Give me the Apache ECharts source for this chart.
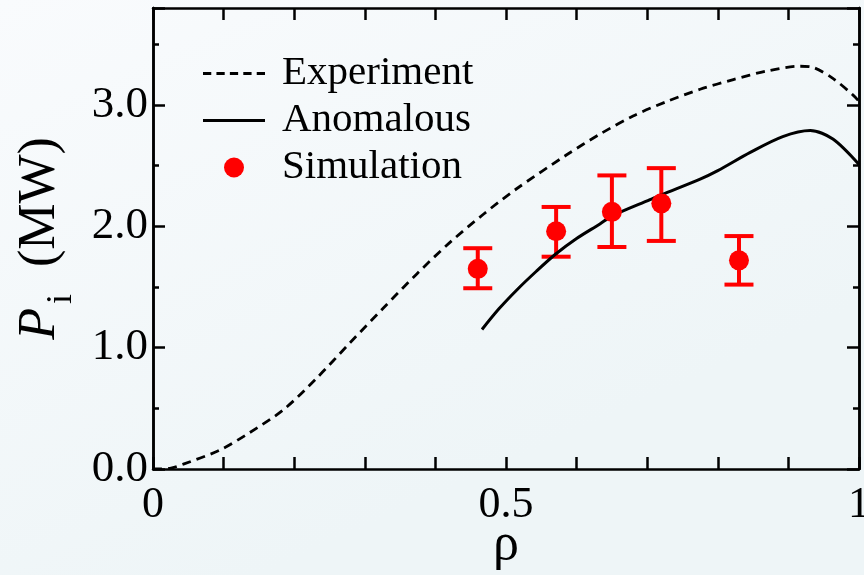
<!DOCTYPE html>
<html>
<head>
<meta charset="utf-8">
<script src="https://cdn.jsdelivr.net/npm/echarts@6/dist/echarts.min.js"></script>
<style>
html,body{margin:0;padding:0;}
#chart{width:864px;height:575px;}
</style>
</head>
<body>
<div id="chart"></div>
<script>
// Experiment (dashed)
var expX = [0, 0.024, 0.043, 0.095, 0.137, 0.185, 0.232, 0.279, 0.326, 0.374, 0.421, 0.468, 0.515, 0.586, 0.633, 0.68, 0.728, 0.775, 0.822, 0.869, 0.916, 0.935, 0.963, 0.992, 1.0];
var expY = [0, 0.006, 0.04, 0.157, 0.30, 0.49, 0.75, 1.04, 1.325, 1.61, 1.87, 2.10, 2.31, 2.59, 2.76, 2.91, 3.03, 3.13, 3.21, 3.28, 3.32, 3.31, 3.22, 3.08, 3.03];
// Anomalous (solid)
var anomX = [0.466, 0.49, 0.516, 0.543, 0.570, 0.60, 0.633, 0.65, 0.704, 0.72, 0.775, 0.80, 0.846, 0.892, 0.931, 0.963, 1.0];
var anomY = [1.15, 1.32, 1.48, 1.63, 1.77, 1.90, 2.02, 2.085, 2.22, 2.26, 2.39, 2.46, 2.61, 2.74, 2.79, 2.72, 2.51];
// Simulation points with error bars
var simX = [0.460, 0.571, 0.650, 0.720, 0.830];
var simY = [1.65, 1.96, 2.12, 2.19, 1.72];
var simLow = [1.49, 1.75, 1.83, 1.88, 1.52];
var simHigh = [1.82, 2.16, 2.42, 2.48, 1.92];
// tick labels
var xTickLabels = {"0": "0", "0.5": "0.5", "1": "1"};
var yTickLabels = {"0": "0.0", "1": "1.0", "2": "2.0", "3": "3.0"};

function zip(a, b) { return a.map(function (v, i) { return [v, b[i]]; }); }

var FONT = 'Liberation Serif';
var lineCol = '#000';

function baseAxis(extra) {
  var o = {
    type: 'value',
    axisLine: { show: true, onZero: false, lineStyle: { color: lineCol, width: 2.5 } },
    axisTick: { show: true, inside: true, length: 12, lineStyle: { color: lineCol, width: 2.5 } },
    axisLabel: { show: false },
    splitLine: { show: false }
  };
  for (var k in extra) o[k] = extra[k];
  return o;
}

var dashIcon = 'path://M0,0L8,0L8,2.8L0,2.8Z M13,0L21,0L21,2.8L13,2.8Z M26,0L34,0L34,2.8L26,2.8Z M39,0L47,0L47,2.8L39,2.8Z M52,0L60,0L60,2.8L52,2.8Z';
var solidIcon = 'path://M0,0L62,0L62,3L0,3Z';

var chart = echarts.init(document.getElementById('chart'));
var option = {
  backgroundColor: {
    type: 'linear', x: 0, y: 0, x2: 0.3, y2: 1,
    colorStops: [{ offset: 0, color: '#f9fbfd' }, { offset: 1, color: '#eef5f7' }]
  },
  animation: false,
  grid: { left: 153, right: 5, top: 8, bottom: 106, containLabel: false, outerBoundsMode: 'none' },
  legend: {
    left: 203, top: 50, orient: 'vertical', padding: 0,
    itemWidth: 62, itemHeight: 20, itemGap: 0,
    data: [
      { name: 'Experiment', icon: dashIcon, itemStyle: { color: '#000' } },
      { name: 'Anomalous', icon: solidIcon, itemStyle: { color: '#000' } },
      { name: 'Simulation', icon: 'circle' }
    ],
    textStyle: { fontFamily: FONT, fontSize: 41, color: '#000', lineHeight: 47, padding: [0, 0, 0, 12] }
  },
  xAxis: [
    baseAxis({
      position: 'bottom', min: 0, max: 1, interval: 0.1,
      axisLabel: {
        show: true, margin: 14, fontFamily: FONT, fontSize: 44, color: '#000',
        formatter: function (v) { var k = String(Math.round(v * 10) / 10); return xTickLabels[k] !== undefined ? xTickLabels[k] : ''; }
      },
      name: 'ρ', nameLocation: 'middle', nameGap: 50, nameMoveOverlap: false,
      nameTextStyle: { fontFamily: FONT, fontSize: 52, color: '#000' }
    }),
    baseAxis({ position: 'top', min: 0, max: 1, interval: 0.1 })
  ],
  yAxis: [
    baseAxis({
      position: 'left', min: 0, max: 3.8, interval: 0.5,
      axisTick: { show: true, inside: true, length: 6, lineStyle: { color: lineCol, width: 2.5 } },
      axisLabel: {
        show: true, margin: 5, fontFamily: FONT, fontSize: 45, color: '#000',
        formatter: function (v) { var k = String(Math.round(v * 10) / 10); return yTickLabels[k] !== undefined ? yTickLabels[k] : ''; }
      },
      name: '{p|P}{sub|i}{n| (MW)}', nameLocation: 'middle', nameRotate: 90, nameGap: 87, nameMoveOverlap: false,
      nameTextStyle: {
        rich: {
          p: { fontFamily: FONT, fontStyle: 'italic', fontSize: 52, lineHeight: 52, verticalAlign: 'top', color: '#000' },
          sub: { fontFamily: FONT, fontSize: 36, lineHeight: 36, padding: [30, 0, 0, 4], verticalAlign: 'top', color: '#000' },
          n: { fontFamily: FONT, fontSize: 52, lineHeight: 52, verticalAlign: 'top', padding: [0, 0, 0, 14], color: '#000' }
        }
      }
    }),
    baseAxis({ position: 'left', min: 0, max: 3.8, interval: 1 }),
    baseAxis({
      position: 'right', min: 0, max: 3.8, interval: 0.5,
      axisTick: { show: true, inside: true, length: 6, lineStyle: { color: lineCol, width: 2.5 } }
    }),
    baseAxis({ position: 'right', min: 0, max: 3.8, interval: 1 })
  ],
  series: [
    {
      name: 'Experiment', type: 'line', data: zip(expX, expY), smooth: 0.3,
      symbol: 'none', xAxisIndex: 0, yAxisIndex: 0,
      lineStyle: { color: '#000', width: 2.8, type: [9, 6] }, itemStyle: { color: '#000' }
    },
    {
      name: 'Anomalous', type: 'line', data: zip(anomX, anomY), smooth: 0.3,
      symbol: 'none', xAxisIndex: 0, yAxisIndex: 0,
      lineStyle: { color: '#000', width: 3, type: 'solid' }, itemStyle: { color: '#000' }
    },
    {
      name: 'SimErr', type: 'custom', xAxisIndex: 0, yAxisIndex: 0,
      data: simX.map(function (x, i) { return [x, simLow[i], simHigh[i]]; }),
      encode: { x: 0, y: [1, 2] },
      renderItem: function (params, api) {
        var x = api.value(0);
        var lo = api.coord([x, api.value(1)]);
        var hi = api.coord([x, api.value(2)]);
        var hw = 14.5;
        var st = { stroke: '#ff0000', lineWidth: 4 };
        return {
          type: 'group',
          children: [
            { type: 'line', shape: { x1: lo[0], y1: lo[1], x2: hi[0], y2: hi[1] }, style: st },
            { type: 'line', shape: { x1: lo[0] - hw, y1: lo[1], x2: lo[0] + hw, y2: lo[1] }, style: st },
            { type: 'line', shape: { x1: hi[0] - hw, y1: hi[1], x2: hi[0] + hw, y2: hi[1] }, style: st }
          ]
        };
      },
      z: 3
    },
    {
      name: 'Simulation', type: 'scatter', data: zip(simX, simY),
      symbol: 'circle', symbolSize: 20, xAxisIndex: 0, yAxisIndex: 0,
      itemStyle: { color: '#ff0000', opacity: 1 }, z: 4
    }
  ]
};
chart.setOption(option);
</script>
</body>
</html>
